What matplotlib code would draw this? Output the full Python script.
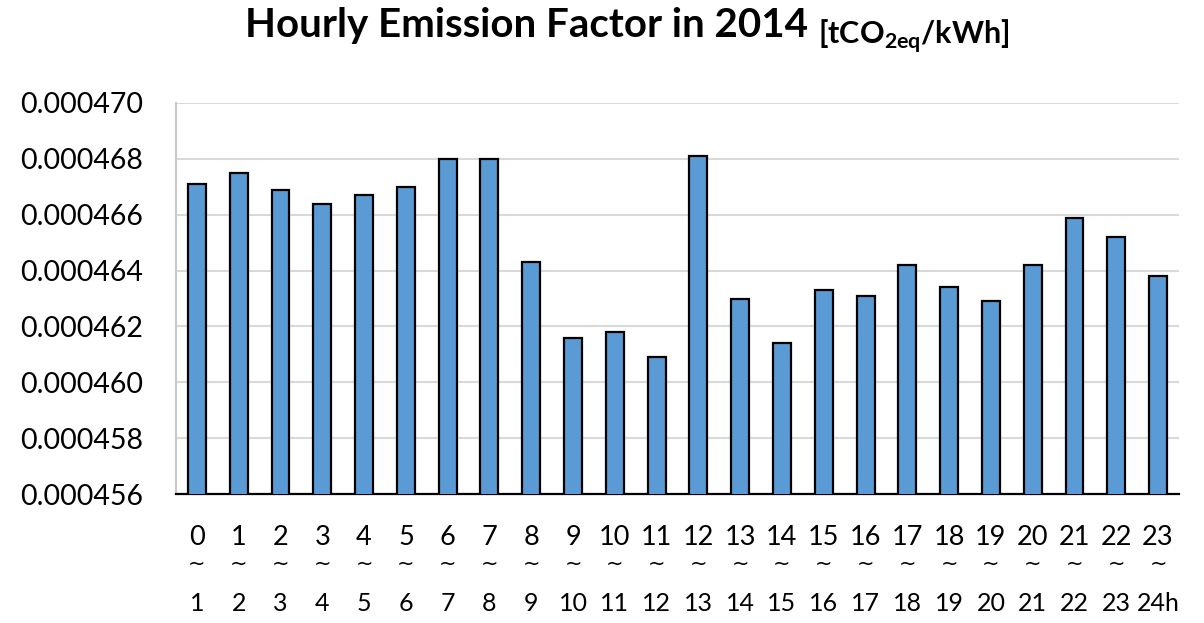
import matplotlib
matplotlib.use("Agg")
import matplotlib.pyplot as plt
from matplotlib.ticker import FuncFormatter, MultipleLocator
import numpy as np

# hour slots 0~1 ... 23~24h
hour_start = [str(h) for h in range(24)]
hour_end = [str(h) for h in range(1, 24)] + ["24h"]

# hourly emission factor [tCO2eq/kWh]
emission = [0.0004671, 0.0004675, 0.0004669, 0.0004664, 0.0004667, 0.0004670,
            0.0004680, 0.0004680, 0.0004643, 0.0004616, 0.0004618, 0.0004609,
            0.0004681, 0.0004630, 0.0004614, 0.0004633, 0.0004631, 0.0004642,
            0.0004634, 0.0004629, 0.0004642, 0.0004659, 0.0004652, 0.0004638]

plt.rcParams["font.family"] = ["Lato", "DejaVu Sans"]
plt.rcParams["mathtext.fontset"] = "custom"
plt.rcParams["mathtext.rm"] = "Lato:bold"
plt.rcParams["mathtext.bf"] = "Lato:bold"

fig = plt.figure(figsize=(12.04, 6.23), dpi=100)
ax = fig.add_axes([0.1462, 0.207, 0.8330, 0.6277])

x = np.arange(len(emission))
ax.bar(x, emission, width=0.43, color="#5b9bd5", edgecolor="black", linewidth=1.6, zorder=3)

ax.set_xlim(-0.5, len(emission) - 0.5)
ax.set_ylim(0.000456, 0.000470)
ax.yaxis.set_major_locator(MultipleLocator(0.000002))
ax.yaxis.set_major_formatter(FuncFormatter(lambda v, _: f"{v:.6f}"))
ax.tick_params(axis="y", length=0, labelsize=20.5, pad=24)
ax.grid(axis="y", color="#d9d9d9", linewidth=1.5, zorder=0)

ax.set_xticks(x)
ax.set_xticklabels([])
ax.tick_params(axis="x", length=0)
tr = ax.get_xaxis_transform()
for xi, s, e in zip(x, hour_start, hour_end):
    ax.text(xi, -0.110, s, transform=tr, ha="center", va="center", fontsize=19.5)
    ax.text(xi, -0.178, "~", transform=tr, ha="center", va="center", fontsize=15,
            family="DejaVu Sans")
    ax.text(xi, -0.279, e, transform=tr, ha="center", va="center", fontsize=18)

for side in ["top", "right"]:
    ax.spines[side].set_visible(False)
ax.spines["left"].set_color("#c8c8c8")
ax.spines["left"].set_linewidth(1.5)
ax.spines["bottom"].set_color("black")
ax.spines["bottom"].set_linewidth(1.6)

title = fig.text(0.2035, 0.9406, "Hourly Emission Factor in 2014", fontsize=29,
                 fontweight="bold", ha="left", va="baseline")
ax.annotate(r"[tCO$_\mathregular{2eq}$/kWh]", xy=(1, 0), xycoords=title,
            xytext=(7, 0), textcoords="offset points", fontsize=22,
            fontweight="bold", ha="left", va="baseline")

fig.savefig("out.png", dpi=100)
